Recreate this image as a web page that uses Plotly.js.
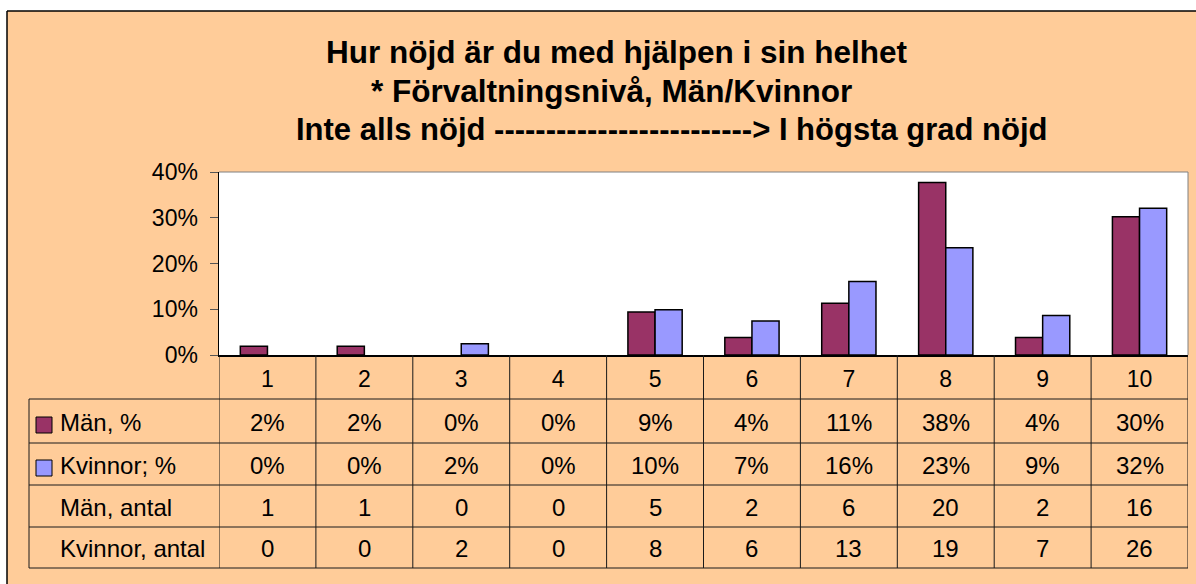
<!DOCTYPE html>
<html>
<head>
<meta charset="utf-8">
<script src="https://cdn.plot.ly/plotly-3.0.1.min.js"></script>
<style>
  html, body { margin: 0; padding: 0; background: #ffffff; }
  #chart { width: 1196px; height: 584px; }
</style>
</head>
<body>
<div id="chart"></div>
<script>
// ---- data ----
const categories = ['1', '2', '3', '4', '5', '6', '7', '8', '9', '10'];
const menPct   = [0.019, 0.019, 0, 0, 0.094, 0.038, 0.113, 0.377, 0.038, 0.302];
const womenPct = [0, 0, 0.0247, 0, 0.0988, 0.0741, 0.1605, 0.2346, 0.0864, 0.321];
const menCount   = [1, 1, 0, 0, 5, 2, 6, 20, 2, 16];
const womenCount = [0, 0, 2, 0, 8, 6, 13, 19, 7, 26];
const seriesNames = ['Män, %', 'Kvinnor; %'];
const rowLabels = ['Män, %', 'Kvinnor; %', 'Män, antal', 'Kvinnor, antal'];
const yTicks = [0, 0.1, 0.2, 0.3, 0.4];
const titleLines = [
  'Hur nöjd är du med hjälpen i sin helhet',
  '* Förvaltningsnivå, Män/Kvinnor',
  'Inte alls nöjd -------------------------> I högsta grad nöjd'
];

// ---- styling / geometry ----
const W = 1196, H = 584;
const M = { l: 219, r: 8, t: 172, b: 229 };
const plotW = W - M.l - M.r, plotH = H - M.t - M.b;
const px = p => (p - M.l) / plotW;           // pixel x -> paper
const py = p => (H - M.b - p) / plotH;       // pixel y -> paper
const colors = ['#993366', '#9999FF'];
const FONT = 'Liberation Sans, Arial, sans-serif';
const outline = vals => vals.map(v => (v > 0 ? 1.5 : 0));  // no outline on empty bars

const traces = [
  { type: 'bar', name: seriesNames[0], x: categories, y: menPct,
    marker: { color: colors[0], line: { color: '#000', width: outline(menPct) } } },
  { type: 'bar', name: seriesNames[1], x: categories, y: womenPct,
    marker: { color: colors[1], line: { color: '#000', width: outline(womenPct) } } }
];

const pct = v => Math.round(v * 100) + '%';
const tableRows = [menPct.map(pct), womenPct.map(pct), menCount.map(String), womenCount.map(String)];

const rowLines = [399, 443, 485, 527, 568];
const rowCenters = [422, 465, 507, 548];
const tableLeft = 29;

const shapes = [];
const annotations = [];

// white margin strips + outer frame lines
shapes.push({ type: 'rect', xref: 'paper', yref: 'paper', x0: px(-5), x1: px(W + 5), y0: py(-5), y1: py(11), fillcolor: '#fff', line: { width: 0 }, layer: 'below' });
shapes.push({ type: 'rect', xref: 'paper', yref: 'paper', x0: px(-5), x1: px(7), y0: py(-5), y1: py(H + 5), fillcolor: '#fff', line: { width: 0 }, layer: 'below' });
shapes.push({ type: 'line', xref: 'paper', yref: 'paper', x0: px(7), x1: px(W + 5), y0: py(11), y1: py(11), line: { color: '#000', width: 1.5 } });
shapes.push({ type: 'line', xref: 'paper', yref: 'paper', x0: px(7), x1: px(7), y0: py(11), y1: py(H + 5), line: { color: '#000', width: 1.5 } });

// plot area top/right border (gray)
shapes.push({ type: 'line', xref: 'paper', yref: 'paper', x0: 0, x1: 1, y0: 1, y1: 1, line: { color: '#808080', width: 1 } });
shapes.push({ type: 'line', xref: 'paper', yref: 'paper', x0: 1, x1: 1, y0: 0, y1: 1, line: { color: '#808080', width: 1 } });

// table horizontal lines
rowLines.forEach(y => {
  shapes.push({ type: 'line', xref: 'paper', yref: 'paper', x0: px(tableLeft), x1: 1, y0: py(y), y1: py(y), line: { color: '#1a1a1a', width: 1 } });
});
// table vertical lines (category boundaries via x scale)
for (let i = 0; i <= categories.length; i++) {
  shapes.push({ type: 'line', xref: 'x', yref: 'paper', x0: i - 0.5, x1: i - 0.5, y0: 0, y1: py(rowLines[rowLines.length - 1]), line: { color: '#1a1a1a', width: 1 } });
}
// table left border
shapes.push({ type: 'line', xref: 'paper', yref: 'paper', x0: px(tableLeft), x1: px(tableLeft), y0: py(rowLines[0]), y1: py(rowLines[rowLines.length - 1]), line: { color: '#1a1a1a', width: 1 } });

// legend keys
[0, 1].forEach(r => {
  const c = rowCenters[r] + 3;
  shapes.push({ type: 'rect', xref: 'paper', yref: 'paper', x0: px(36), x1: px(52), y0: py(c - 8), y1: py(c + 8), fillcolor: colors[r], line: { color: '#000', width: 1 } });
});

// row labels
rowLabels.forEach((lab, r) => {
  annotations.push({ text: lab, xref: 'paper', yref: 'paper', x: px(58), y: py(rowCenters[r]), xanchor: 'left', yanchor: 'middle', showarrow: false, font: { family: FONT, size: 24, color: '#000' } });
});
// table values (x given as category index on the category axis)
tableRows.forEach((row, r) => {
  row.forEach((v, i) => {
    annotations.push({ text: v, xref: 'x', yref: 'paper', x: i, y: py(rowCenters[r]), xanchor: 'center', yanchor: 'middle', showarrow: false, font: { family: FONT, size: 24, color: '#000' } });
  });
});
// title lines
const titleX = [617, 611, 672], titleY = [52, 91, 129];
const titleSize = [31.5, 31.5, 31];
titleLines.forEach((t, k) => {
  annotations.push({ text: '<b>' + t + '</b>', xref: 'paper', yref: 'paper', x: px(titleX[k]), y: py(titleY[k]), xanchor: 'center', yanchor: 'middle', showarrow: false, font: { family: FONT, size: titleSize[k], color: '#000' } });
});

const layout = {
  width: W, height: H,
  margin: M,
  paper_bgcolor: '#FFCC99',
  plot_bgcolor: '#FFFFFF',
  showlegend: false,
  barmode: 'group',
  bargap: 0.44,
  bargroupgap: 0,
  font: { family: FONT, color: '#000' },
  xaxis: {
    type: 'category',
    categoryorder: 'array', categoryarray: categories,
    range: [-0.5, categories.length - 0.5],
    showgrid: false, zeroline: false,
    showline: true, linecolor: '#000', linewidth: 1.5,
    ticks: '', ticklabelstandoff: 3,
    tickfont: { family: FONT, size: 23, color: '#000' },
    fixedrange: true
  },
  yaxis: {
    range: [0, 0.4],
    tickvals: yTicks, tickformat: '.0%',
    showgrid: false, zeroline: false,
    showline: true, linecolor: '#000', linewidth: 1.5,
    ticks: 'outside', ticklen: 8, tickcolor: '#555', tickwidth: 1,
    ticklabelstandoff: 7,
    tickfont: { family: FONT, size: 23, color: '#000' },
    fixedrange: true
  },
  shapes: shapes,
  annotations: annotations
};

Plotly.newPlot('chart', traces, layout, { displayModeBar: false, staticPlot: true });
</script>
</body>
</html>
